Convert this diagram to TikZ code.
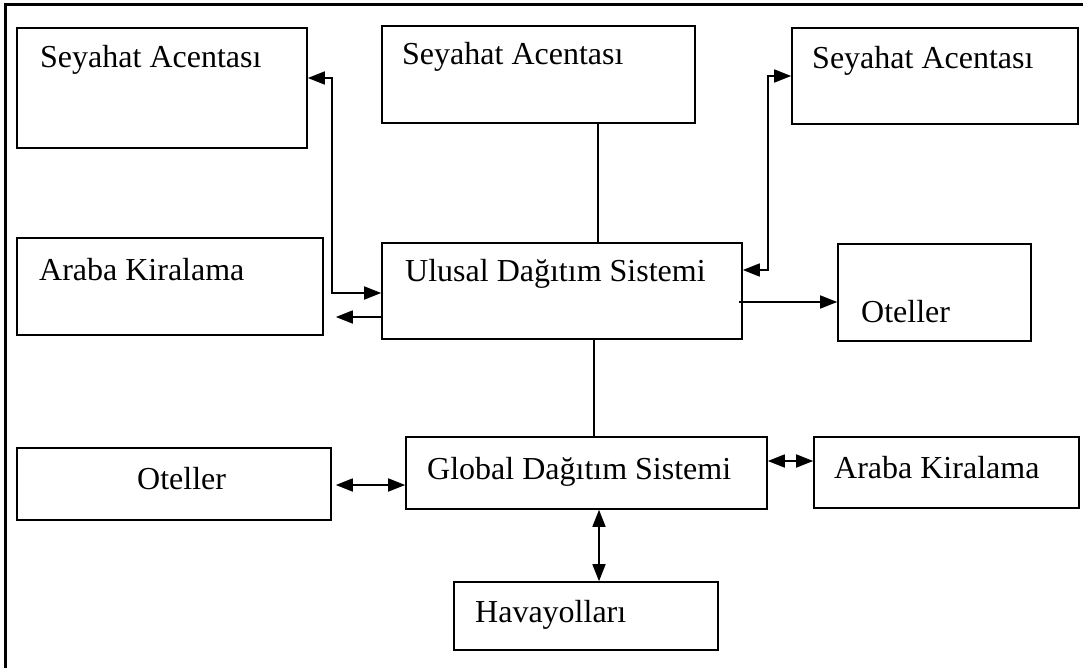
\documentclass[tikz,border=0pt]{standalone}
\usepackage{fontspec}
\setmainfont{Liberation Serif}
\usepackage{tikz}
\usetikzlibrary{arrows.meta,positioning}

\begin{document}
\begin{tikzpicture}[
    x=1pt, y=-1pt,
    box/.style={rectangle, draw, line width=1.6pt, inner sep=0pt},
    txt/.style={anchor=base west, inner sep=0pt, font=\fontsize{32}{38}\selectfont},
    arrow/.style={-{Triangle[length=17pt,width=13pt]}, line width=1.6pt},
    dblarrow/.style={{Triangle[length=17pt,width=13pt]}-{Triangle[length=17pt,width=13pt]}, line width=1.6pt},
    link/.style={line width=1.6pt}
]
\useasboundingbox (0,0) rectangle (1083,668);

% Frame
\draw[line width=3pt] (1083,5) -- (5,5) -- (5,668);

% Top row
\node[box, minimum width=290pt, minimum height=120pt] (sa1) at (162,88) {};
\node[txt] (sa1t) at (40,68) {Seyahat Acentası};
\node[box, minimum width=313pt, minimum height=97pt] (sa2) at (538.5,74.5) {};
\node[txt] (sa2t) at (402,65) {Seyahat Acentası};
\node[box, minimum width=286pt, minimum height=96pt] (sa3) at (935,76) {};
\node[txt] (sa3t) at (812,69) {Seyahat Acentası};

% Middle row
\node[box, minimum width=306pt, minimum height=97pt] (ak1) at (170,286.5) {};
\node[txt] (ak1t) at (39,280) {Araba Kiralama};
\node[box, minimum width=360pt, minimum height=96pt] (uds) at (562,291) {};
\node[txt] (udst) at (405,281) {Ulusal Dağıtım Sistemi};
\node[box, minimum width=193pt, minimum height=97pt] (ot1) at (934.5,292.5) {};
\node[txt] (ot1t) at (861,322) {Oteller};

% Lower row
\node[box, minimum width=314pt, minimum height=72pt] (ot2) at (174,484) {};
\node[txt] (ot2t) at (137,489) {Oteller};
\node[box, minimum width=361pt, minimum height=72pt] (gds) at (586.5,473) {};
\node[txt] (gdst) at (427,479) {Global Dağıtım Sistemi};
\node[box, minimum width=265pt, minimum height=71pt] (ak2) at (946.5,472.5) {};
\node[txt] (ak2t) at (834,478) {Araba Kiralama};

% Bottom
\node[box, minimum width=264pt, minimum height=68pt] (hav) at (586,616) {};
\node[txt] (havt) at (475,622) {Havayolları};

% Connections
\draw[dblarrow] ([yshift=10pt]sa1.east) -- ++(24,0) |- ([yshift=-2pt]uds.west);
\draw[arrow] ([yshift=-26pt]uds.west) -- ([xshift=12pt,yshift=-30.5pt]ak1.east);
\draw[dblarrow] ([yshift=21pt]uds.east) -- ++(25,0) |- (sa3.west);
\draw[arrow] ([xshift=-4pt,yshift=-11pt]uds.east) -- ([yshift=-9.5pt]ot1.west);
\draw[link] ([xshift=59.5pt]sa2.south) -- ([xshift=36pt]uds.north);
\draw[link] ([xshift=32pt]uds.south) -- ([xshift=7.5pt]gds.north);
\draw[dblarrow, shorten <=4pt] ([yshift=-1pt]ot2.east) -- ([yshift=-12pt]gds.west);
\draw[dblarrow] ([yshift=12pt]gds.east) -- ([yshift=11.5pt]ak2.west);
\draw[dblarrow] ([xshift=12.5pt]gds.south) -- ([xshift=13pt]hav.north);

\end{tikzpicture}
\end{document}
